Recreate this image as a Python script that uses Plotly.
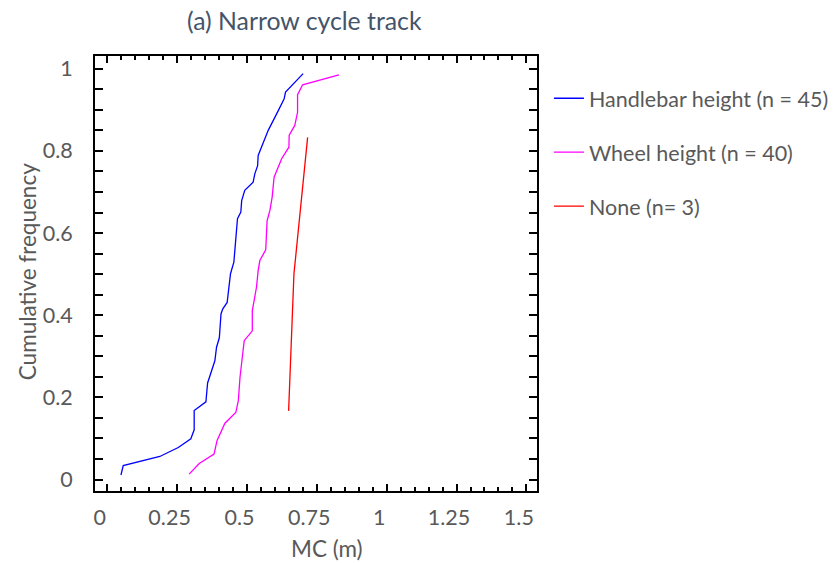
import plotly.graph_objects as go

# ---- data ----
handlebar_x = [0.049, 0.057, 0.188, 0.254, 0.299, 0.311, 0.311, 0.353, 0.359, 0.373,
               0.385, 0.391, 0.401, 0.407, 0.413, 0.429, 0.433, 0.441, 0.453, 0.459,
               0.466, 0.478, 0.481, 0.492, 0.522, 0.528, 0.538, 0.540, 0.558, 0.576,
               0.612, 0.633, 0.638, 0.701]
handlebar_y = [0.011, 0.034, 0.056, 0.078, 0.099, 0.121, 0.168, 0.189, 0.235, 0.265,
               0.289, 0.322, 0.345, 0.403, 0.415, 0.431, 0.460, 0.501, 0.529, 0.582,
               0.635, 0.651, 0.679, 0.704, 0.724, 0.744, 0.764, 0.789, 0.821, 0.850,
               0.898, 0.927, 0.943, 0.988]

wheel_x = [0.293, 0.329, 0.382, 0.393, 0.421, 0.460, 0.469, 0.475, 0.490, 0.519,
           0.519, 0.534, 0.540, 0.546, 0.567, 0.572, 0.582, 0.590, 0.597, 0.624,
           0.650, 0.651, 0.671, 0.681, 0.681, 0.699, 0.829]
wheel_y = [0.013, 0.039, 0.062, 0.095, 0.137, 0.163, 0.192, 0.249, 0.338, 0.362,
           0.411, 0.468, 0.509, 0.533, 0.559, 0.630, 0.655, 0.687, 0.736, 0.781,
           0.809, 0.838, 0.862, 0.894, 0.937, 0.961, 0.985]

none_x = [0.649, 0.668, 0.717]
none_y = [0.167, 0.500, 0.833]

series_names = ["Handlebar height (n = 45)", "Wheel height (n = 40)", "None (n= 3)"]
series_colors = ["#0000ff", "#ff00ff", "#ff0000"]

x_tick_vals = [0, 0.25, 0.5, 0.75, 1, 1.25, 1.5]
x_tick_text = ["0", "0.25", "0.5", "0.75", "1", "1.25", "1.5"]
y_tick_vals = [0, 0.2, 0.4, 0.6, 0.8, 1]
y_tick_text = ["0", "0.2", "0.4", "0.6", "0.8", "1"]

title_text = "(a) Narrow cycle track"
x_title = "MC (m)"
y_title = "Cumulative frequency"

FONT = "Lato"
GREY = "#595959"
FS = 21.5

fig = go.Figure()
for i, (xs, ys) in enumerate([(handlebar_x, handlebar_y), (wheel_x, wheel_y), (none_x, none_y)]):
    fig.add_trace(go.Scatter(x=xs, y=ys, mode="lines", name=series_names[i],
                             legendgroup=f"g{i}",
                             line=dict(color=series_colors[i], width=1.3)))

# invisible trace on the label axis so it renders
fig.add_trace(go.Scatter(x=[0], y=[0], xaxis="x2", mode="markers",
                         marker=dict(opacity=0), showlegend=False, hoverinfo="skip"))

XR = [-0.044, 1.538]
shift = 0.027
fig.update_layout(
    width=838, height=563,
    margin=dict(l=95, r=301, t=56, b=72, autoexpand=False),
    paper_bgcolor="white", plot_bgcolor="white",
    font=dict(family=FONT, color=GREY, size=FS),
    showlegend=True,
    legend=dict(x=1.027, y=0.95, xanchor="left", yanchor="top",
                font=dict(family=FONT, size=FS, color=GREY),
                tracegroupgap=23, bgcolor="rgba(0,0,0,0)"),
    xaxis=dict(range=XR, showgrid=False, zeroline=False,
               showline=True, linecolor="black", linewidth=2, mirror="allticks",
               ticks="inside", ticklen=7, tickwidth=1.5, tickcolor="black",
               tickvals=x_tick_vals, showticklabels=False,
               minor=dict(dtick=0.05, ticks="inside", ticklen=4, tickwidth=1.5, tickcolor="black")),
    xaxis2=dict(range=[XR[0] + shift, XR[1] + shift], overlaying="x", side="bottom",
                anchor="y", showgrid=False, zeroline=False, showline=False, ticks="",
                tickvals=x_tick_vals, ticktext=x_tick_text, ticklabelstandoff=11,
                tickfont=dict(family=FONT, size=FS, color=GREY)),
    yaxis=dict(range=[-0.028, 1.031], showgrid=False, zeroline=False,
               showline=True, linecolor="black", linewidth=2, mirror="allticks",
               ticks="inside", ticklen=8, tickwidth=1.5, tickcolor="black",
               tickvals=y_tick_vals, ticktext=y_tick_text, ticklabelstandoff=16,
               tickfont=dict(family=FONT, size=FS, color=GREY),
               minor=dict(dtick=0.05, ticks="inside", ticklen=5, tickwidth=1.5, tickcolor="black")),
    annotations=[
        dict(text=title_text, x=0.4748, y=1.0805, xref="paper", yref="paper",
             xanchor="center", yanchor="middle", showarrow=False,
             font=dict(family=FONT, size=24.8, color="#44546a")),
        dict(text=x_title, x=0.5257, y=-0.1317, xref="paper", yref="paper",
             xanchor="center", yanchor="middle", showarrow=False,
             font=dict(family=FONT, size=22.5, color=GREY)),
        dict(text=y_title, x=-0.1537, y=0.503, xref="paper", yref="paper",
             xanchor="center", yanchor="middle", showarrow=False, textangle=-90,
             font=dict(family=FONT, size=22.5, color=GREY)),
    ],
)

fig.write_html("out.html")
